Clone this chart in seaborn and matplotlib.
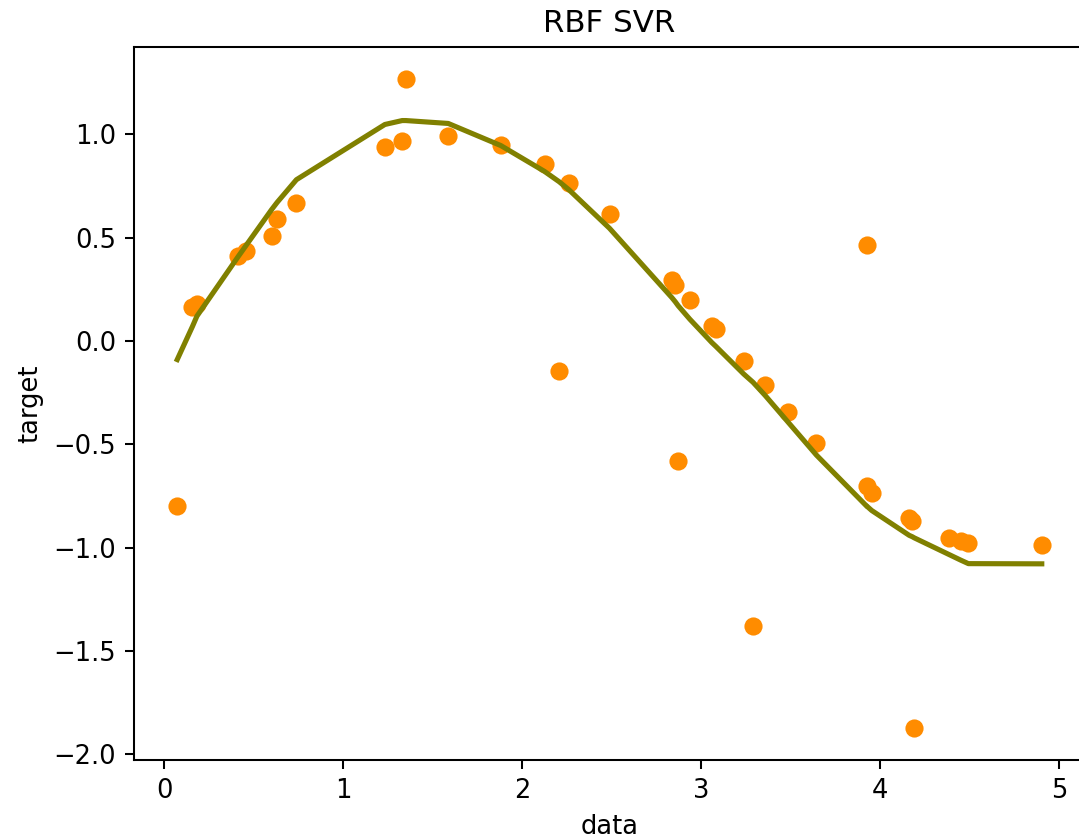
import numpy as np
import pandas as pd
import matplotlib
matplotlib.use("Agg")
import matplotlib.pyplot as plt
import seaborn as sns

# sample positions (sorted) and observed targets
data_x = [0.073, 0.158, 0.183, 0.415, 0.456, 0.600, 0.631, 0.739, 1.233, 1.330,
          1.350, 1.587, 1.881, 2.125, 2.207, 2.263, 2.488, 2.836, 2.855, 2.872,
          2.937, 3.060, 3.082, 3.238, 3.290, 3.358, 3.486, 3.644, 3.926, 3.927,
          3.953, 4.162, 4.180, 4.190, 4.385, 4.450, 4.493, 4.903]
data_y = [-0.797, 0.163, 0.180, 0.410, 0.434, 0.507, 0.590, 0.666, 0.938, 0.966,
          1.265, 0.993, 0.949, 0.856, -0.144, 0.763, 0.612, 0.293, 0.272, -0.580,
          0.199, 0.074, 0.058, -0.096, -1.380, -0.212, -0.342, -0.493, -0.703, 0.463,
          -0.736, -0.854, -0.869, -1.870, -0.951, -0.967, -0.977, -0.987]
# RBF SVR prediction at the same positions
fit_y = [-0.090, 0.070, 0.120, 0.410, 0.460, 0.635, 0.670, 0.780, 1.047, 1.066,
         1.066, 1.052, 0.945, 0.820, 0.770, 0.730, 0.545, 0.210, 0.190, 0.170,
         0.105, -0.008, -0.026, -0.160, -0.200, -0.264, -0.393, -0.552, -0.800, -0.800,
         -0.820, -0.940, -0.947, -0.952, -1.033, -1.060, -1.077, -1.078]

df = pd.DataFrame({"data": data_x, "target": data_y, "fit": fit_y})

dpi = 185
fig = plt.figure(figsize=(1079 / dpi, 839 / dpi), dpi=dpi)
ax = fig.add_axes([134 / 1079, 79 / 839, (1085 - 134) / 1079, (760 - 47) / 839])

sns.scatterplot(data=df, x="data", y="target", color="darkorange", s=50,
                linewidth=0, ax=ax, zorder=1)
sns.lineplot(data=df, x="data", y="fit", color="olive", lw=2,
             estimator=None, sort=False, ax=ax, zorder=2)

ax.set_xlabel("data")
ax.set_ylabel("target")
ax.set_title("RBF SVR")

fig.savefig("out.png", dpi=dpi)
